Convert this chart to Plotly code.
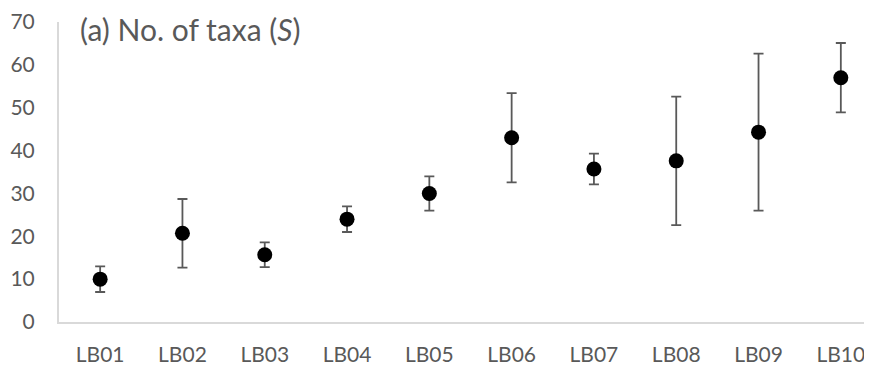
import plotly.graph_objects as go

categories = ["LB01", "LB02", "LB03", "LB04", "LB05", "LB06", "LB07", "LB08", "LB09", "LB10"]
mean_taxa = [10.0, 20.7, 15.7, 24.0, 30.0, 43.0, 35.7, 37.6, 44.3, 57.0]
err_taxa = [3.0, 8.0, 2.9, 3.0, 4.0, 10.4, 3.6, 15.0, 18.3, 8.1]
y_ticks = [0, 10, 20, 30, 40, 50, 60, 70]
title_text = "(a) No. of taxa (<i>S</i>)"

font_family = "Lato, Carlito, 'Open Sans', sans-serif"
gray_text = "#595959"

fig = go.Figure()
fig.add_trace(go.Scatter(
    x=list(range(len(categories))),
    y=mean_taxa,
    mode="markers",
    marker=dict(color="black", size=15),
    error_y=dict(type="data", array=err_taxa, visible=True,
                 color="#595959", thickness=1.8, width=5),
    showlegend=False,
))

fig.update_layout(
    width=872, height=369,
    margin=dict(l=51, r=0, t=12, b=55),
    paper_bgcolor="white", plot_bgcolor="white",
    font=dict(family=font_family, color=gray_text, size=21),
    xaxis=dict(
        tickmode="array", tickvals=list(range(len(categories))), ticktext=categories,
        range=[-0.5, 9.476], showgrid=False, zeroline=False,
        showline=True, linecolor="#d9d9d9", linewidth=2,
        ticks="", ticklabelstandoff=13, ticklabeloverflow="allow",
        tickfont=dict(size=21, color=gray_text),
    ),
    yaxis=dict(
        range=[0, 70], tickmode="array", tickvals=y_ticks,
        showgrid=False, zeroline=False,
        showline=True, linecolor="#d9d9d9", linewidth=2,
        ticks="", ticklabelstandoff=18, ticklabeloverflow="allow",
        tickfont=dict(size=21, color=gray_text),
    ),
    annotations=[dict(
        text=title_text, xref="paper", yref="paper", x=0.0231, y=1.0,
        xanchor="left", yanchor="middle", yshift=-7, showarrow=False,
        font=dict(size=30, color=gray_text, family=font_family),
    )],
)

fig.write_html("out.html")
